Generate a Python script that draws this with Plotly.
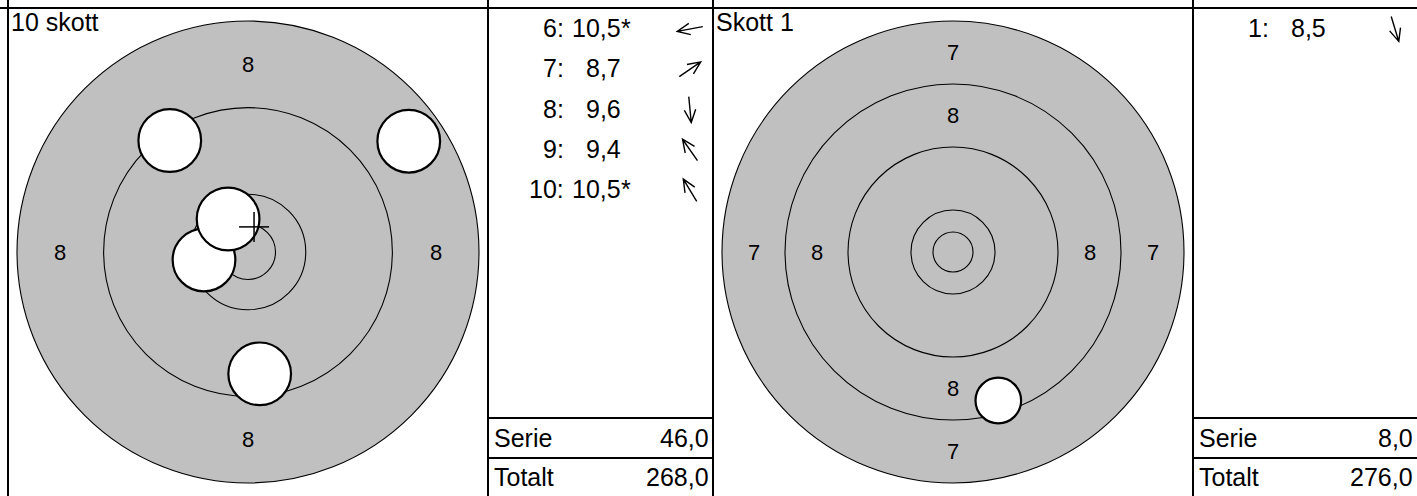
import math
import plotly.graph_objects as go

# ring geometry (target units, 1 unit = 1 px at zoom 1)
ring_scores = [7, 8, 9, 10]
ring_radii = [231, 168, 105, 42]
inner_ten_radius = 20
shot_radius = 22.8

# left panel: series view (shots 6-10), zoomed in
t1_title = "10 skott"
t1_zoom = 1.375
t1_first_ring = 8
t1_shot_no = [6, 7, 8, 9, 10]
t1_scores = [10.5, 8.7, 9.6, 9.4, 10.5]
t1_inner = [True, False, False, False, True]
t1_x = [-32.0, 116.9, 8.5, -56.9, -14.5]
t1_y = [-5.8, 80.6, -88.6, 81.1, 24.0]
t1_serie = 46.0
t1_total = 268.0

# right panel: single shot view
t2_title = "Skott 1"
t2_zoom = 1.0
t2_first_ring = 7
t2_shot_no = [1]
t2_scores = [8.5]
t2_inner = [False]
t2_x = [45.3]
t2_y = [-148.5]
t2_serie = 8.0
t2_total = 276.0

W, H = 1417, 496
TOP = 8
PANEL_H = H - TOP
FONT = "Liberation Sans, Arial, sans-serif"
GREY = "#c0c0c0"

# panel edges in px
x_t1 = (8, 488)
x_l1 = (488, 713)
x_t2 = (713, 1193)
x_l2 = (1193, 1417)

ROW0 = 20
ROW_H = 40.3


def fmt(v):
    return f"{v:.1f}".replace(".", ",")


fig = go.Figure()
shapes = []
annotations = []


def add_target(n, edges, zoom, first_ring, xs, ys, title):
    xa, ya = ("x", "y") if n == 1 else (f"x{n}", f"y{n}")
    w = edges[1] - edges[0]
    fig.update_layout(**{
        ("xaxis" if n == 1 else f"xaxis{n}"): dict(
            domain=[edges[0] / W, edges[1] / W],
            range=[-w / 2 / zoom, w / 2 / zoom], visible=False, anchor=ya),
        ("yaxis" if n == 1 else f"yaxis{n}"): dict(
            domain=[0, PANEL_H / H],
            range=[-PANEL_H / 2 / zoom, PANEL_H / 2 / zoom], visible=False, anchor=xa),
    })
    idx = ring_scores.index(first_ring)
    radii = ring_radii[idx:] + [inner_ten_radius]
    for i, r in enumerate(radii):
        shapes.append(dict(type="circle", xref=xa, yref=ya, x0=-r, x1=r, y0=-r, y1=r,
                           fillcolor=GREY if i == 0 else "rgba(0,0,0,0)",
                           line=dict(color="black", width=1.1), layer="above"))
    # ring numbers in the outer bands
    for s, r_out, r_in in zip(ring_scores, ring_radii, ring_radii[1:]):
        if s < first_ring or s > 8:
            continue
        m = (r_out + r_in) / 2
        for dx, dy in [(0, m), (0, -m), (-m, 0), (m, 0)]:
            annotations.append(dict(x=dx, y=dy, xref=xa, yref=ya, text=str(s),
                                    showarrow=False, font=dict(size=22, color="black", family=FONT)))
    for sx, sy in zip(xs, ys):
        shapes.append(dict(type="circle", xref=xa, yref=ya,
                           x0=sx - shot_radius, x1=sx + shot_radius,
                           y0=sy - shot_radius, y1=sy + shot_radius,
                           fillcolor="white", line=dict(color="black", width=2.2), layer="above"))
    # mean point of impact
    if len(xs) > 1:
        mx = sum(xs) / len(xs)
        my = sum(ys) / len(ys)
        c = 15 / zoom
        shapes.append(dict(type="line", xref=xa, yref=ya, x0=mx - c, x1=mx + c, y0=my, y1=my,
                           line=dict(color="black", width=1.5), layer="above"))
        shapes.append(dict(type="line", xref=xa, yref=ya, x0=mx, x1=mx, y0=my - c, y1=my + c,
                           line=dict(color="black", width=1.5), layer="above"))
    annotations.append(dict(x=(edges[0] + 1) / W, y=PANEL_H / H + 0.004, xref="paper", yref="paper",
                            text=title, xanchor="left", yanchor="top", showarrow=False,
                            font=dict(size=25, color="black", family=FONT)))


def add_list(n, edges, nos, scores, inner, xs, ys, serie, total):
    xa, ya = f"x{n}", f"y{n}"
    w = edges[1] - edges[0]
    fig.update_layout(**{
        f"xaxis{n}": dict(domain=[edges[0] / W, edges[1] / W], range=[0, w],
                          visible=False, anchor=ya),
        f"yaxis{n}": dict(domain=[0, PANEL_H / H], range=[PANEL_H, 0],
                          visible=False, anchor=xa),
    })
    f = dict(size=25, color="black", family=FONT)
    for i, (no, sc, star, sx, sy) in enumerate(zip(nos, scores, inner, xs, ys)):
        yr = ROW0 + ROW_H * i
        annotations.append(dict(x=78, y=yr, xref=xa, yref=ya, text=f"{no}:", xanchor="right",
                                showarrow=False, font=f))
        annotations.append(dict(x=135, y=yr, xref=xa, yref=ya, text=fmt(sc), xanchor="right",
                                showarrow=False, font=f))
        if star:
            annotations.append(dict(x=131, y=yr, xref=xa, yref=ya, text="*", xanchor="left",
                                    showarrow=False, font=f))
        # direction arrow (axis units are pixels, y pointing down)
        d = math.hypot(sx, sy)
        ux, uy = sx / d, -sy / d
        half, arm, ang = 13, 14, math.radians(24)
        cx, cy = 202, yr + 1
        tx, ty = cx + half * ux, cy + half * uy
        bx, by = cx - half * ux, cy - half * uy
        a1 = (tx - arm * (ux * math.cos(ang) - uy * math.sin(ang)),
              ty - arm * (uy * math.cos(ang) + ux * math.sin(ang)))
        a2 = (tx - arm * (ux * math.cos(ang) + uy * math.sin(ang)),
              ty - arm * (uy * math.cos(ang) - ux * math.sin(ang)))
        path = (f"M{bx:.2f},{by:.2f} L{tx:.2f},{ty:.2f} "
                f"M{a1[0]:.2f},{a1[1]:.2f} L{tx:.2f},{ty:.2f} L{a2[0]:.2f},{a2[1]:.2f}")
        shapes.append(dict(type="path", xref=xa, yref=ya, path=path,
                           line=dict(color="black", width=1.4)))
    # summary rows
    for label, val, yc in [("Serie", serie, 430), ("Totalt", total, 469)]:
        annotations.append(dict(x=4, y=yc, xref=xa, yref=ya, text=label, xanchor="left",
                                showarrow=False, font=f))
        annotations.append(dict(x=w - 2, y=yc, xref=xa, yref=ya, text=fmt(val), xanchor="right",
                                showarrow=False, font=f))
    for yp in (410, 450):
        shapes.append(dict(type="line", xref=xa, yref=ya, x0=0, x1=w, y0=yp, y1=yp,
                           line=dict(color="black", width=2)))


add_target(1, x_t1, t1_zoom, t1_first_ring, t1_x, t1_y, t1_title)
add_list(3, x_l1, t1_shot_no, t1_scores, t1_inner, t1_x, t1_y, t1_serie, t1_total)
add_target(2, x_t2, t2_zoom, t2_first_ring, t2_x, t2_y, t2_title)
add_list(4, x_l2, t2_shot_no, t2_scores, t2_inner, t2_x, t2_y, t2_serie, t2_total)

# frame lines
shapes.append(dict(type="line", xref="paper", yref="paper", x0=0, x1=1,
                   y0=PANEL_H / H, y1=PANEL_H / H, line=dict(color="black", width=2)))
for xp in (x_t1[0], x_l1[0], x_t2[0], x_l2[0]):
    shapes.append(dict(type="line", xref="paper", yref="paper", x0=xp / W, x1=xp / W, y0=0, y1=1,
                       line=dict(color="black", width=2)))

fig.update_layout(
    width=W, height=H,
    margin=dict(l=0, r=0, t=0, b=0),
    paper_bgcolor="white", plot_bgcolor="white",
    showlegend=False,
    shapes=shapes, annotations=annotations,
)

# drop the default page margin so the 1417x496 figure fills the window
fig.write_html("out.html", config={"displayModeBar": False},
               post_script="document.body.style.margin='0';document.body.style.overflow='hidden';")
